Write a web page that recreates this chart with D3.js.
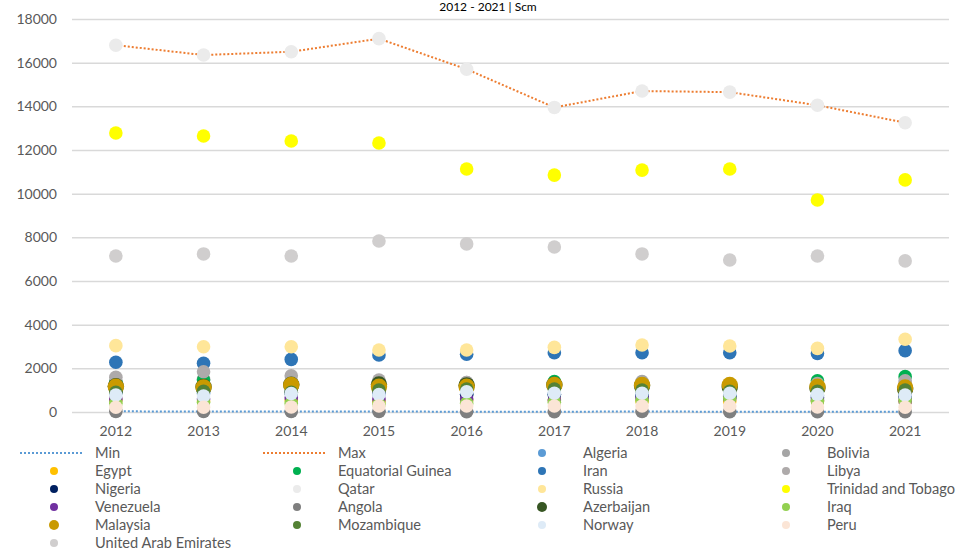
<!DOCTYPE html>
<head>
<meta charset="utf-8">
<style>
  body { margin: 0; background: #fff; }
  svg text { font-family: Lato, "Open Sans", sans-serif; }
</style>
<script src="https://d3js.org/d3.v7.min.js"></script>
</head>
<body>
<script>
// chart values
var years = ["2012", "2013", "2014", "2015", "2016", "2017", "2018", "2019", "2020", "2021"];
var yTicks = [0, 2000, 4000, 6000, 8000, 10000, 12000, 14000, 16000, 18000];

var minValues = [30, 25, 20, 20, 15, 15, 20, 15, 10, 10];
var maxValues = [16800, 16350, 16500, 17100, 15700, 13950, 14700, 14650, 14050, 13250];

var algeria = [900, 850, 850, 850, 800, 800, 800, 750, 750, 800];
var bolivia = [1400, 1500, 1400, 1400, 1350, 1250, 1400, 1150, 1200, 1300];
var egypt = [550, 500, 550, 500, 550, 550, 500, 500, 500, 500];
var equatorialGuinea = [1350, 1466, 1150, 1200, 1250, 1390, 1150, 1050, 1433, 1620];
var iran = [2280, 2230, 2410, 2610, 2650, 2716, 2716, 2716, 2680, 2810];
var libya = [1590, 1846, 1660, 1466, 1350, 1300, 1330, 1200, 1300, 1433];
var nigeria = [950, 950, 900, 900, 800, 800, 750, 700, 650, 700];
var qatar = [16800, 16350, 16500, 17100, 15700, 13950, 14700, 14650, 14050, 13250];
var russia = [3040, 2990, 2990, 2840, 2840, 2960, 3070, 3020, 2915, 3330];
var trinidad = [12780, 12640, 12410, 12320, 11130, 10850, 11080, 11130, 9710, 10630];
var venezuela = [600, 600, 650, 600, 600, 550, 640, 640, 550, 500];
var angola = [30, 25, 20, 20, 15, 15, 20, 15, 10, 10];
var azerbaijan = [1180, 1150, 1250, 1260, 1220, 1250, 1200, 1150, 1100, 1050];
var iraq = [400, 450, 400, 350, 400, 450, 550, 640, 500, 550];
var malaysia = [1160, 1130, 1236, 1160, 1160, 1236, 1236, 1236, 1160, 1120];
var mozambique = [900, 950, 900, 1000, 1050, 1050, 1000, 950, 950, 1000];
var norway = [780, 733, 850, 800, 930, 856, 856, 856, 800, 780];
var peru = [215, 215, 230, 275, 275, 275, 275, 275, 230, 215];
var uae = [7145, 7240, 7145, 7830, 7700, 7560, 7240, 6960, 7145, 6920];

var lines = [
  { name: "Min", values: minValues, color: "#5b9bd5" },
  { name: "Max", values: maxValues, color: "#ed7d31" }
];
var countries = [
  { name: "Algeria", values: algeria, color: "#5b9bd5" },
  { name: "Bolivia", values: bolivia, color: "#a5a5a5" },
  { name: "Egypt", values: egypt, color: "#ffc000" },
  { name: "Equatorial Guinea", values: equatorialGuinea, color: "#00b050" },
  { name: "Iran", values: iran, color: "#2e75b6" },
  { name: "Libya", values: libya, color: "#aeaaaa" },
  { name: "Nigeria", values: nigeria, color: "#002060" },
  { name: "Qatar", values: qatar, color: "#ebebeb" },
  { name: "Russia", values: russia, color: "#ffe699" },
  { name: "Trinidad and Tobago", values: trinidad, color: "#ffff00" },
  { name: "Venezuela", values: venezuela, color: "#7030a0" },
  { name: "Angola", values: angola, color: "#7f7f7f" },
  { name: "Azerbaijan", values: azerbaijan, color: "#375623", big: true },
  { name: "Iraq", values: iraq, color: "#92d050" },
  { name: "Malaysia", values: malaysia, color: "#c99a00", big: true },
  { name: "Mozambique", values: mozambique, color: "#548235" },
  { name: "Norway", values: norway, color: "#deebf7" },
  { name: "Peru", values: peru, color: "#fbe5d6" },
  { name: "United Arab Emirates", values: uae, color: "#d0cece" }
];

var width = 962, height = 550;
var svg = d3.select("body").append("svg").attr("width", width).attr("height", height);

var x = d3.scaleBand().domain(years).range([72, 949]);
var y = d3.scaleLinear().domain([0, 18000]).range([412, 19]);
var cx = function(i) { return x(years[i]) + x.bandwidth() / 2; };

// subtitle at the very top
svg.append("text")
  .attr("x", 488).attr("y", 11)
  .attr("text-anchor", "middle")
  .attr("font-size", "12px")
  .attr("fill", "#000")
  .text("2012 - 2021 | Scm");

// y axis with gridlines
var yAxis = svg.append("g")
  .attr("transform", "translate(72,0)")
  .call(d3.axisLeft(y).tickValues(yTicks).tickSize(-(949 - 72)).tickPadding(15).tickFormat(d3.format("d")));
yAxis.select(".domain").remove();
yAxis.selectAll(".tick line").attr("stroke", "#d9d9d9").attr("stroke-width", 1.5);
yAxis.selectAll(".tick text").attr("font-size", "14px").attr("fill", "#595959");

var xAxis = svg.append("g")
  .attr("transform", "translate(0,412)")
  .call(d3.axisBottom(x).tickSize(0).tickPadding(14));
xAxis.select(".domain").remove();
xAxis.selectAll(".tick text").attr("font-size", "14px").attr("fill", "#595959");

// min / max lines
var line = d3.line().x(function(d, i) { return cx(i); }).y(function(d) { return y(d); });
lines.forEach(function(s) {
  svg.append("path")
    .attr("d", line(s.values))
    .attr("fill", "none")
    .attr("stroke", s.color)
    .attr("stroke-width", 2)
    .attr("stroke-dasharray", "2,2");
});

// country markers, later series on top
countries.forEach(function(s) {
  svg.append("g").selectAll("circle")
    .data(s.values)
    .enter()
    .append("circle")
    .attr("cx", function(d, i) { return cx(i); })
    .attr("cy", function(d) { return y(d); })
    .attr("r", s.big ? 8.2 : 6.8)
    .attr("fill", s.color);
});

// legend: 4 columns, row by row
var legendItems = lines.map(function(s) { return { name: s.name, color: s.color, isLine: true }; })
  .concat(countries.map(function(s) { return { name: s.name, color: s.color, big: s.big }; }));
var colX = [95, 338, 583, 827];
var legend = svg.append("g").selectAll("g")
  .data(legendItems)
  .enter()
  .append("g")
  .attr("transform", function(d, i) {
    return "translate(" + colX[i % 4] + "," + (453 + Math.floor(i / 4) * 18) + ")";
  });

legend.filter(function(d) { return d.isLine; })
  .append("line")
  .attr("x1", -75).attr("x2", -12)
  .attr("y1", 0).attr("y2", 0)
  .attr("stroke", function(d) { return d.color; })
  .attr("stroke-width", 2)
  .attr("stroke-dasharray", "2,2");

legend.filter(function(d) { return !d.isLine; })
  .append("circle")
  .attr("cx", -41)
  .attr("r", function(d) { return d.big ? 5 : 4; })
  .attr("fill", function(d) { return d.color; });

legend.append("text")
  .attr("y", 0)
  .attr("dy", "0.35em")
  .attr("font-size", "14.6px")
  .attr("fill", "#595959")
  .text(function(d) { return d.name; });
</script>
</body>
</html>
